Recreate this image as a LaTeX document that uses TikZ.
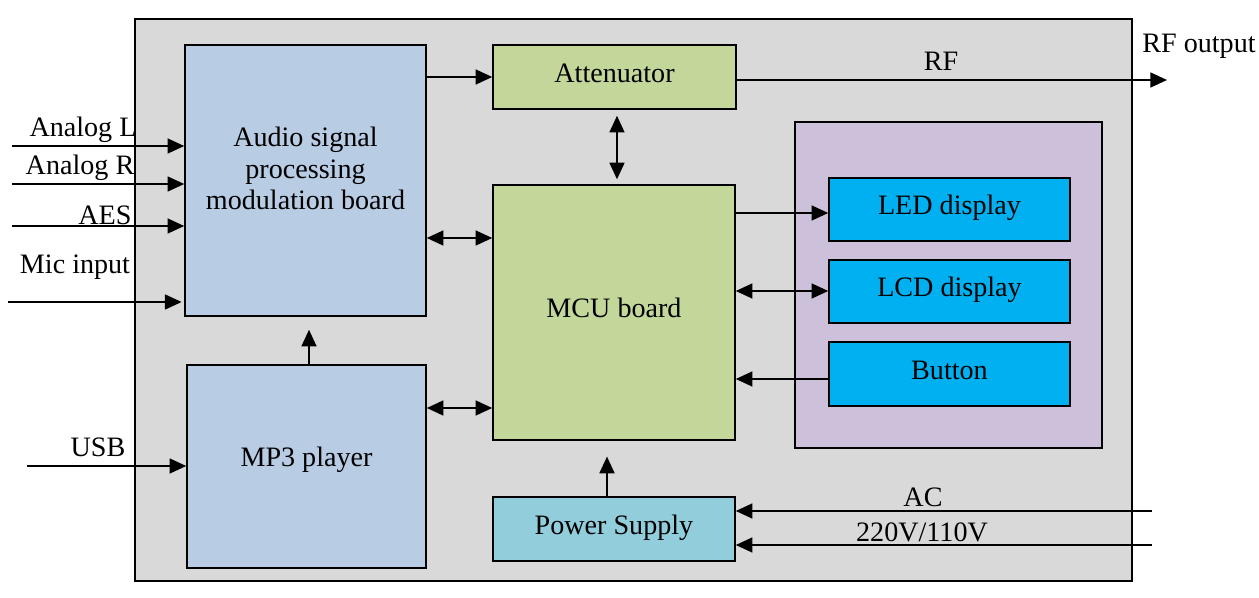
\documentclass[tikz,border=0pt]{standalone}
\usepackage{fontspec}
\setmainfont{Liberation Serif}
\usetikzlibrary{arrows, arrows.meta}
\usetikzlibrary{calc}

\definecolor{casegray}{HTML}{D9D9D9}
\definecolor{audioblue}{HTML}{B8CCE4}
\definecolor{mcugreen}{HTML}{C4D79B}
\definecolor{panelpurple}{HTML}{CCC0DA}
\definecolor{dispblue}{HTML}{00B0F0}
\definecolor{powercyan}{HTML}{92CDDC}

\tikzset{
  block/.style={draw, line width=0.9pt, inner sep=0pt, align=center, text height=0.7em, text depth=0.1em},
  sig/.style={-{Triangle[length=9.5pt, width=8.5pt]}, line width=1.1pt},
  both/.style={{Triangle[length=9.5pt, width=8.5pt]}-{Triangle[length=9.5pt, width=8.5pt]}, line width=1.1pt},
  txt/.style={inner sep=0pt}
}

\begin{document}
\begin{tikzpicture}[x=0.02cm, y=-0.02cm, font=\fontsize{16}{18}\selectfont]
      \useasboundingbox (0,0) rectangle (1259,598);
      \draw[fill=casegray, line width=1pt] (135,19) rectangle (1132,581);

      \node[draw, line width=0.9pt, fill=audioblue, minimum width=4.82cm, minimum height=5.42cm,
            label={[yshift=0.24cm, align=center]center:{Audio signal\\processing\\modulation board}}] (audio) at (305.5,180.5) {};
      \node[block, fill=audioblue, minimum width=4.78cm, minimum height=4.06cm, text depth=0.72em] (mp3) at (306.5,466.5) {MP3 player};
      \node[block, fill=mcugreen, minimum width=4.86cm, minimum height=1.28cm] (att) at (614.5,77) {Attenuator};
      \node[block, fill=mcugreen, minimum width=4.84cm, minimum height=5.10cm] (mcu) at (614,312.5) {MCU board};
      \node[block, fill=powercyan, minimum width=4.84cm, minimum height=1.28cm] (power) at (614,529) {Power Supply};
      \node[draw, line width=0.9pt, fill=panelpurple, minimum width=6.14cm, minimum height=6.52cm] (panel) at (948.5,285) {};
      \node[block, fill=dispblue, minimum width=4.82cm, minimum height=1.26cm] (led) at (949.5,209.5) {LED display};
      \node[block, fill=dispblue, minimum width=4.82cm, minimum height=1.26cm] (lcd) at (949.5,291.5) {LCD display};
      \node[block, fill=dispblue, minimum width=4.82cm, minimum height=1.28cm] (button) at (949.5,374) {Button};

      \coordinate (inL) at (12,146);
      \coordinate (inR) at (12,184);
      \coordinate (inAES) at (12,226);
      \coordinate (inMic) at (8,302);
      \coordinate (inUSB) at (27,466);
      \coordinate (rfout) at (1167,80);
      \coordinate (acA) at (1152,511);
      \coordinate (acB) at (1152,545);

      \node[txt] (lblL) at (83,130) {Analog L};
      \node[txt] (lblR) at (80,168) {Analog R};
      \node[txt] (lblAES) at (105,215) {AES};
      \node[txt] (lblMic) at (75,267) {Mic input};
      \node[txt] (lblUSB) at (98,447) {USB};
      \node[txt] (lblRF) at (941,61) {RF};
      \node[txt] (lblRFout) at (1199,46) {RF output};
      \node[txt] (lblAC) at (923,497) {AC};
      \node[txt] (lblV) at (922,532) {220V/110V};

      \draw[sig] (inL) -- (inL -| audio.west);
      \draw[sig] (inR) -- (inR -| audio.west);
      \draw[sig] (inAES) -- (inAES -| audio.west);
      \draw[sig, shorten >=1.5pt] (inMic) -- (inMic -| audio.west);
      \draw[sig] (inUSB) -- (inUSB -| mp3.west);

      \draw[sig] (audio.east |- att.west) -- (att.west);
      \draw[sig] (att.east |- rfout) -- (rfout);
      \draw[both, shorten <=3.4pt, shorten >=2.8pt] (617,0 |- att.south) -- (617,0 |- mcu.north);
      \draw[both] (audio.east |- 0,238) -- (mcu.west |- 0,238);
      \draw[both] (mp3.east |- 0,408) -- (mcu.west |- 0,408);
      \draw[sig, shorten >=7.4pt] (309,0 |- mp3.north) -- (309,0 |- audio.south);
      \draw[sig, shorten >=9pt] (607,0 |- power.north) -- (607,0 |- mcu.south);

      \draw[sig] (mcu.east |- 0,213) -- (led.west |- 0,213);
      \draw[both] (mcu.east |- 0,291) -- (lcd.west |- 0,291);
      \draw[sig] (button.west |- 0,379) -- (mcu.east |- 0,379);

      \draw[sig] (acA) -- (acA -| power.east);
      \draw[sig] (acB) -- (acB -| power.east);
\end{tikzpicture}
\end{document}
